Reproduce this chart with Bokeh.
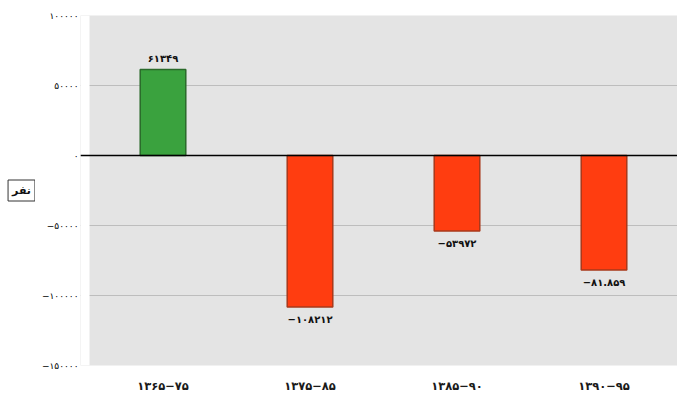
from bokeh.plotting import figure
from bokeh.layouts import row
from bokeh.models import ColumnDataSource, FixedTicker, Label, Span, BoxAnnotation
from bokeh.core.properties import value
from bokeh.embed import file_html
from bokeh.resources import INLINE

# ---- data ----
periods = ["۱۳۶۵−۷۵", "۱۳۷۵−۸۵", "۱۳۸۵−۹۰", "۱۳۹۰−۹۵"]
changes = [61349, -108212, -53972, -81859]
change_labels = ["۶۱۳۴۹", "−۱۰۸۲۱۲", "−۵۳۹۷۲", "−۸۱.۸۵۹"]
y_ticks = [100000, 50000, 0, -50000, -100000, -150000]
y_tick_labels = ["۱۰۰۰۰۰", "۵۰۰۰۰", "۰", "−۵۰۰۰۰", "−۱۰۰۰۰۰", "−۱۵۰۰۰۰"]
unit_label = "نفر"

FONT = "DejaVu Sans"
pos_fill, pos_line = "#3aa23e", "#2a6a2a"
neg_fill, neg_line = "#ff3d10", "#a8381a"

xs = list(range(len(periods)))
src = ColumnDataSource(dict(
    x=xs,
    change=changes,
    label=change_labels,
    fill=[pos_fill if v >= 0 else neg_fill for v in changes],
    line=[pos_line if v >= 0 else neg_line for v in changes],
    base=["bottom" if v >= 0 else "top" for v in changes],
    off=[-6 if v >= 0 else 7 for v in changes],
))

TOP, BOTTOM = 15, 27
SIDE_W = 35

# small panel holding the boxed unit label
side = figure(width=SIDE_W, height=395, output_backend="svg", toolbar_location=None,
              x_axis_type=None, y_axis_type=None, x_range=(0, 1), y_range=(0, 1),
              min_border_left=0, min_border_right=0,
              min_border_top=TOP, min_border_bottom=BOTTOM)
side.outline_line_color = None
side.background_fill_color = "white"
side.border_fill_color = "white"
side.grid.visible = False
side.add_layout(Label(x=21, y=395 - BOTTOM - 193, x_units="screen", y_units="screen",
                      text=unit_label,
                      text_font=FONT, text_font_size="11px", text_font_style="bold",
                      text_align="center", text_baseline="middle", text_color="#111111",
                      border_line_color="#333333", border_line_width=1,
                      background_fill_color="white", padding=4))

p = figure(width=677 - SIDE_W, height=395, output_backend="svg", toolbar_location=None,
           x_range=(-0.5 - 9 / 147, len(periods) - 0.5), y_range=(-150000, 100000),
           min_border_left=80 - SIDE_W, min_border_right=0,
           min_border_top=TOP, min_border_bottom=BOTTOM)
p.background_fill_color = "#e4e4e4"
p.border_fill_color = "white"
p.outline_line_color = None

# grid
p.xgrid.grid_line_color = None
p.ygrid.ticker = FixedTicker(ticks=y_ticks)
p.ygrid.grid_line_color = "#bdbdbd"
p.ygrid.grid_line_width = 1

# white strip left of the plot area (zero line reaches into it)
p.add_layout(BoxAnnotation(left=0, right=9, left_units="screen", right_units="screen",
                           fill_color="white", fill_alpha=1, line_color=None,
                           level="underlay"))

p.vbar(x="x", top="change", bottom=0, width=0.31, source=src,
       fill_color="fill", line_color="line", line_width=1.5)

p.text(x="x", y="change", text="label", source=src,
       text_align="center", text_baseline="base", y_offset="off",
       text_font=value(FONT), text_font_size="10px", text_font_style="bold",
       text_color="#111111")

p.add_layout(Span(location=0, dimension="width", line_color="black", line_width=1.5))

# x axis
xa = p.xaxis[0]
xa.ticker = FixedTicker(ticks=xs)
xa.major_label_overrides = {i: s for i, s in zip(xs, periods)}
xa.axis_line_color = None
xa.major_tick_out = 0
xa.major_tick_in = 0
xa.minor_tick_out = 0
xa.minor_tick_in = 0
xa.major_tick_line_color = None
xa.minor_tick_line_color = None
xa.major_label_text_font = FONT
xa.major_label_text_font_size = "11.5px"
xa.major_label_text_font_style = "bold"
xa.major_label_text_color = "#1a1a1a"
xa.major_label_standoff = 13

# y axis
ya = p.yaxis[0]
ya.ticker = FixedTicker(ticks=y_ticks)
ya.major_label_overrides = {t: s for t, s in zip(y_ticks, y_tick_labels)}
ya.axis_line_color = None
ya.major_tick_out = 0
ya.major_tick_in = 0
ya.minor_tick_out = 0
ya.minor_tick_in = 0
ya.major_tick_line_color = None
ya.minor_tick_line_color = None
ya.major_label_text_font = FONT
ya.major_label_text_font_size = "9px"
ya.major_label_text_color = "#000000"
ya.major_label_standoff = 2

layout = row(side, p, spacing=0)
open("out.html", "w").write(file_html(layout, INLINE))
